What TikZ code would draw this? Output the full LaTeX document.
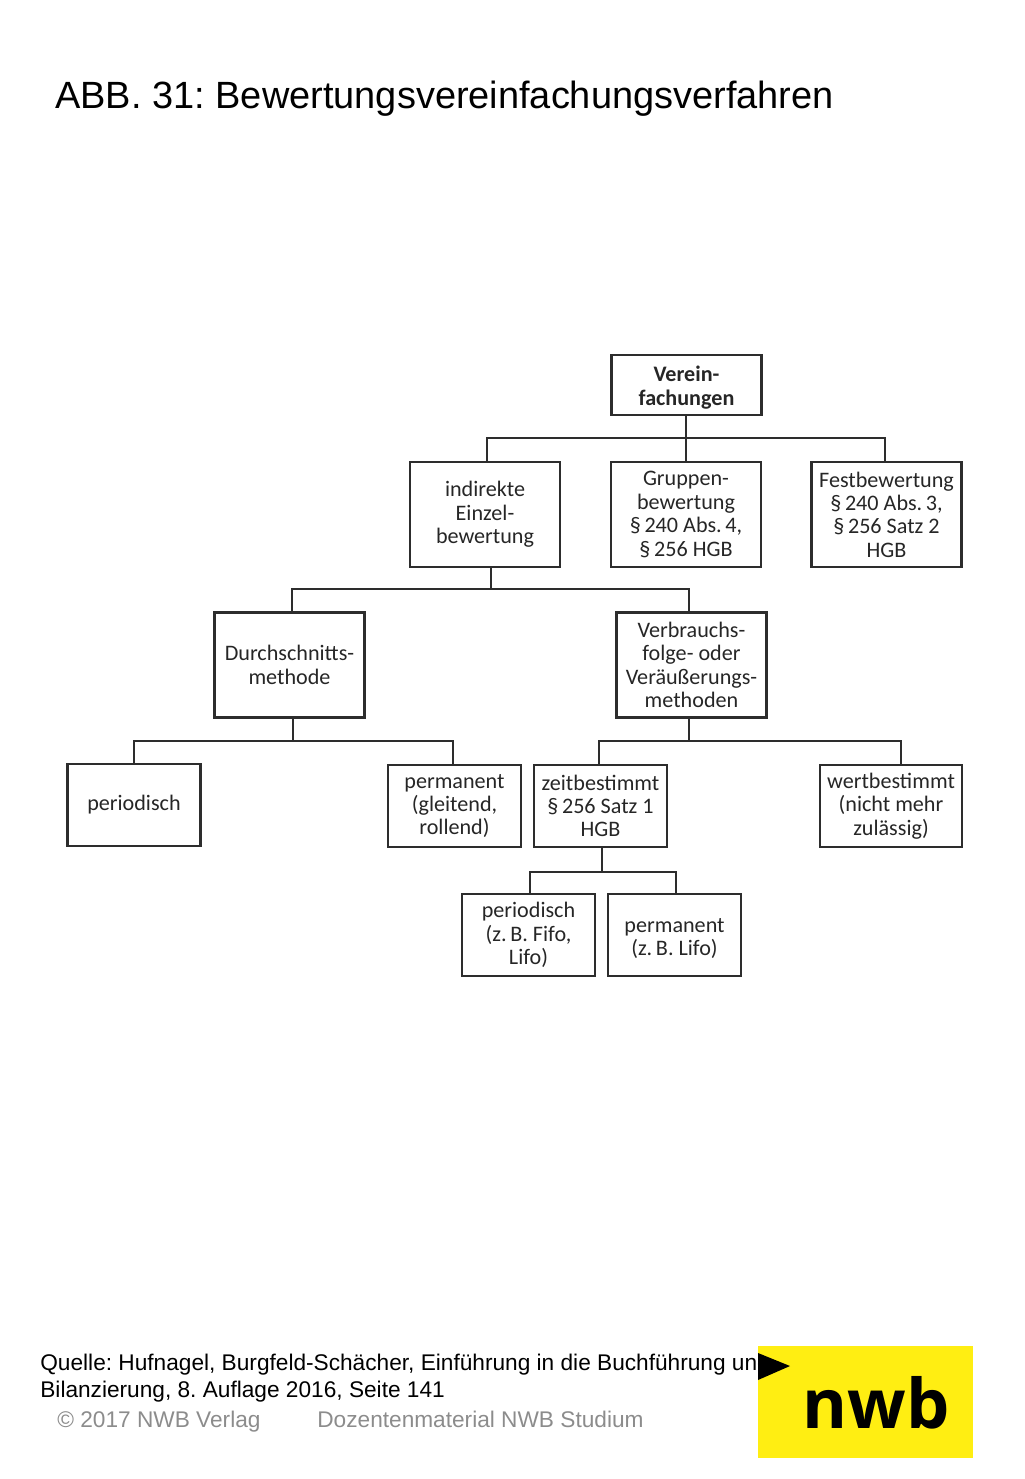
\documentclass[tikz,border=0pt]{standalone}
\usepackage{fontspec}
\setmainfont{Liberation Sans}
\newfontfamily\boxfont{Carlito}
\newfontfamily\logofont{Open Sans}
\frenchspacing
\definecolor{nwbyellow}{RGB}{255,238,18}
\definecolor{linegray}{RGB}{45,45,45}
\definecolor{footgray}{RGB}{140,140,140}
\tikzset{
	kasten/.style={draw=linegray,line width=1.2pt,align=center,inner sep=0pt,text=black!85,font=\boxfont\fontsize{12.6}{13.3}\selectfont},
	gross/.style={kasten,minimum width=3cm,minimum height=2.1cm},
	klein/.style={kasten,minimum width=2.66cm,minimum height=1.64cm},
	ast/.style={draw=linegray,line width=1.2pt},
	zeile/.style={anchor=base west,inner sep=0pt,font=\fontsize{12.9}{15}\selectfont}
}
\begin{document}
\begin{tikzpicture}[x=0.02cm,y=-0.02cm]
	\useasboundingbox (0,0) rectangle (1024,1479);

	\node[anchor=base west,inner sep=0pt,font=\fontsize{21.6}{26}\selectfont] (titel) at (55,109) {ABB. 31: Bewertungsvereinfachungsverfahren};

	\node[gross,minimum height=1.2cm] (verein) at (686.5,385) {\rule{0pt}{12pt}\textbf{Verein-}\\\textbf{fachungen}};
	\node[gross] (indirekt) at (485,514.5) {indirekte\\Einzel-\\bewertung};
	\node[gross] (gruppe) at (686,514.5) {Gruppen-\\bewertung\\§\,240 Abs.\,4,\\§\,256 HGB};
	\node[gross] (fest) at (886.5,514.5) {Festbewertung\\§\,240 Abs.\,3,\\§\,256 Satz 2\\HGB};
	\node[gross] (durch) at (289.5,665) {Durchschnitts-\\methode};
	\node[gross] (verbrauch) at (691.5,665) {Verbrauchs-\\folge- oder\\Veräußerungs-\\methoden};
	\node[klein] (periodA) at (134,805) {periodisch};
	\node[klein] (permA) at (454.5,806) {permanent\\(gleitend,\\rollend)};
	\node[klein] (zeit) at (600.5,806) {zeitbestimmt\\§\,256 Satz 1\\HGB};
	\node[klein,minimum width=2.84cm] (wert) at (891,806) {wertbestimmt\\(nicht mehr\\zulässig)};
	\node[klein] (periodB) at (528.5,935) {periodisch\\(z.\,B. Fifo,\\Lifo)};
	\node[klein] (permB) at (674.5,935) {\rule{0pt}{12pt}permanent\\(z.\,B. Lifo)};

	\coordinate (busA) at (686,438);
	\coordinate (busB) at (491,589);
	\coordinate (busC) at (293,741);
	\coordinate (busD) at (689,741);
	\coordinate (busE) at (602,872);

	\draw[ast] (verein.south -| busA) -- (gruppe.north -| busA);
	\draw[ast] (indirekt.north -| 487,0) |- (busA) -| (fest.north -| 885,0);
	\draw[ast] (indirekt.south -| busB) -- (busB);
	\draw[ast] (durch.north -| 292,0) |- (busB) -| (verbrauch.north -| 689,0);
	\draw[ast] (durch.south -| busC) -- (busC);
	\draw[ast] (periodA.north) |- (busC) -| (permA.north -| 453,0);
	\draw[ast] (verbrauch.south -| busD) -- (busD);
	\draw[ast] (zeit.north -| 599,0) |- (busD) -| (wert.north -| 901,0);
	\draw[ast] (zeit.south -| busE) -- (busE);
	\draw[ast] (periodB.north -| 530,0) |- (busE) -| (permB.north -| 676,0);

	\node[zeile] (quelleA) at (40,1370) {Quelle: Hufnagel, Burgfeld-Schächer, Einführung in die Buchführung und};
	\node[zeile] (quelleB) at (40,1397) {Bilanzierung, 8. Auflage 2016, Seite 141};
	\node[zeile,text=footgray] (verlag) at (57,1427) {© 2017 NWB Verlag};
	\node[zeile,text=footgray] (material) at (317,1427) {Dozentenmaterial NWB Studium};

	\fill[nwbyellow] (758,1346) rectangle (973,1458);
	\fill[black] (758,1353) -- (790,1366) -- (758,1380) -- cycle;
	\node[anchor=base,inner sep=0pt,font=\logofont\bfseries\fontsize{39}{39}\selectfont] (logo) at (876,1428) {nwb};
\end{tikzpicture}
\end{document}
